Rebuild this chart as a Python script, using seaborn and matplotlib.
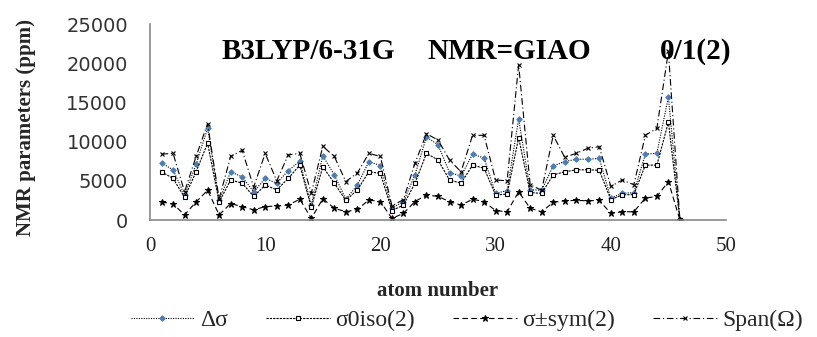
import numpy as np
import pandas as pd
import matplotlib
matplotlib.use("Agg")
import matplotlib.pyplot as plt
import seaborn as sns

# ================================================
#   NMR PARAMETERS PER ATOM - B3LYP/6-31G, GIAO
# ================================================

atom = list(range(1, 47))

delta_sigma = [7250, 6400, 3200, 7100, 11700, 2500, 6150, 5500, 3600, 5300,
               4700, 6300, 7500, 1900, 8200, 5750, 2650, 4450, 7450, 6950,
               1500, 2350, 5750, 10600, 9600, 6050, 5600, 8400, 7900, 3400,
               3750, 12900, 3850, 3800, 6900, 7450, 7750, 7750, 7850, 2800,
               3400, 3500, 8400, 8500, 15700, 0]

sigma_iso = [6150, 5300, 2900, 6150, 9800, 2300, 5100, 4700, 3000, 4450,
             3850, 5300, 7000, 1600, 6800, 4700, 2500, 3850, 6150, 5950,
             1200, 1900, 4700, 8500, 7650, 5100, 4700, 7000, 6600, 3200,
             3300, 10500, 3500, 3400, 5750, 6150, 6400, 6400, 6350, 2600,
             3200, 3250, 7000, 7000, 12500, 0]

sigma_sym = [2300, 2050, 650, 2300, 3800, 650, 2100, 1700, 1300, 1700,
             1800, 1900, 2650, 200, 2700, 1500, 1050, 1350, 2550, 2350,
             200, 850, 2350, 3200, 3000, 2350, 1900, 2650, 2350, 1200,
             1050, 3600, 1500, 1050, 2250, 2450, 2500, 2450, 2500, 850,
             1050, 1050, 2800, 3000, 4900, 0]

span = [8400, 8500, 3600, 8100, 12300, 2700, 8100, 8900, 4200, 8500,
        5000, 8300, 8500, 3400, 9400, 8100, 4900, 6000, 8500, 8100,
        1800, 2600, 7250, 11000, 10200, 7650, 6150, 10800, 10800, 5100,
        5000, 19800, 4500, 3800, 10800, 8000, 8500, 9150, 9350, 4300,
        5100, 4500, 10800, 11700, 21500, 0]

series_names = ["Δσ", "σ0iso(2)", "σ±sym(2)", "Span(Ω)"]
title_parts = ["B3LYP/6-31G", "NMR=GIAO", "0/1(2)"]
x_ticks = [0, 10, 20, 30, 40, 50]
y_ticks = [0, 5000, 10000, 15000, 20000, 25000]

df = pd.DataFrame({"atom": atom, "Δσ": delta_sigma, "σ0iso(2)": sigma_iso,
                   "σ±sym(2)": sigma_sym, "Span(Ω)": span})
df_long = df.melt(id_vars="atom", var_name="serie", value_name="ppm")

# ESTILO
sns.set_theme(style="white")
plt.rcParams["font.family"] = ["Liberation Serif", "DejaVu Serif"]

estilos = {
    "Δσ": dict(linestyle=(0, (1, 1.2)), marker="D", markersize=2.8,
               markerfacecolor="#4a7ebb", markeredgecolor="#4a7ebb"),
    "σ0iso(2)": dict(linestyle=(0, (2, 1)), marker="s", markersize=3.0,
                     markerfacecolor="white", markeredgecolor="black", markeredgewidth=0.8),
    "σ±sym(2)": dict(linestyle=(0, (5, 3)), marker="*", markersize=4.5,
                     markerfacecolor="black", markeredgecolor="black"),
    "Span(Ω)": dict(linestyle=(0, (6, 2.5, 1, 2.5)), marker="x", markersize=3.5,
                    markeredgecolor="black", markeredgewidth=0.8),
}

fig = plt.figure(figsize=(8.17, 3.37), dpi=100)
ax = fig.add_axes([150 / 817, 1 - 220 / 337, 576 / 817, 196 / 337])

for nombre in series_names:
    datos = df_long[df_long["serie"] == nombre]
    sns.lineplot(data=datos, x="atom", y="ppm", ax=ax, color="black",
                 linewidth=0.8, label=nombre, **estilos[nombre])

ax.set_xlim(0, 50)
ax.set_ylim(0, 25000)
ax.set_xticks(x_ticks)
ax.set_yticks(y_ticks)
ax.set_yticklabels([str(v) for v in y_ticks], family="DejaVu Sans", fontsize=14, color="#333333")
ax.set_xticklabels([str(v) for v in x_ticks], fontsize=15, color="#222222")

for lado in ["top", "right"]:
    ax.spines[lado].set_visible(False)
for lado in ["left", "bottom"]:
    ax.spines[lado].set_color("#888888")
    ax.spines[lado].set_linewidth(1.2)
ax.tick_params(axis="both", direction="out", length=6, width=1.2, color="#888888")
ax.tick_params(axis="y", pad=10)
ax.tick_params(axis="x", pad=6)

ax.set_xlabel("atom number", fontsize=15, fontweight="bold", va="center")
ax.xaxis.set_label_coords(0.5, -0.36)
ax.set_ylabel("NMR parameters (ppm)", fontsize=15, fontweight="bold", va="center")
ax.yaxis.set_label_coords(-0.215, 0.47)

# Titulo dentro del grafico
for texto, xpos in zip(title_parts, [222 / 817, 428 / 817, 660 / 817]):
    fig.text(xpos, 1 - 59 / 337, texto, fontsize=21, fontweight="bold",
             ha="left", va="baseline", color="black")

ax.get_legend().remove()
handles, labels = ax.get_legend_handles_labels()
fig.legend(handles, labels, loc="center", bbox_to_anchor=(467 / 817, 1 - 320 / 337),
           ncol=4, frameon=False, fontsize=17, handlelength=2.7,
           handletextpad=0.25, columnspacing=1.6)

fig.savefig("out.png", dpi=100)
